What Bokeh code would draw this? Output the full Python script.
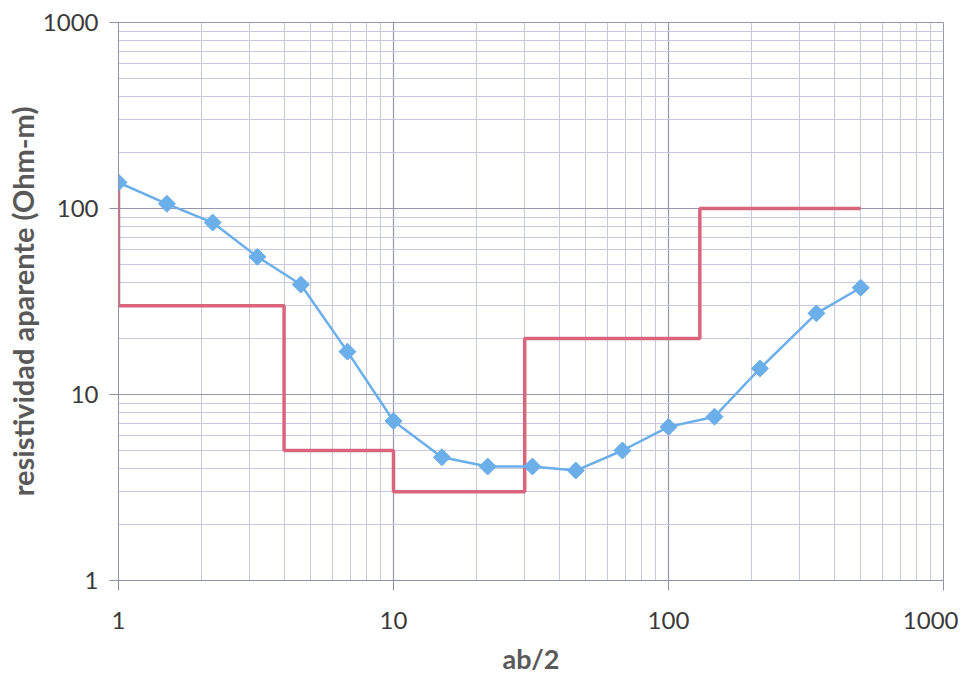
import math
from bokeh.plotting import figure
from bokeh.models import FixedTicker, BasicTickFormatter
from bokeh.embed import file_html
from bokeh.resources import INLINE

# apparent resistivity curve
ab2 = [1.0, 1.5, 2.2, 3.2, 4.6, 6.8, 10, 15, 22, 32, 46, 68, 100, 147, 215, 345, 500]
rho_a = [138, 106, 84, 55, 39, 17, 7.2, 4.6, 4.1, 4.1, 3.9, 5.0, 6.7, 7.6, 13.8, 27.3, 37.5]

# layered model (step line)
model_x = [1, 1, 4, 4, 10, 10, 30, 30, 130, 130, 500]
model_rho = [138, 30, 30, 5, 5, 3, 3, 20, 20, 100, 100]

major_ticks = [1, 10, 100, 1000]
minor_ticks = [m * d for d in (1, 10, 100) for m in range(2, 10)]

W, H = 958, 677
p = figure(width=W, height=H, x_axis_type="log", y_axis_type="log",
           x_range=(1, 1000), y_range=(1, 1000),
           output_backend="svg", toolbar_location=None,
           min_border_left=118, min_border_right=W - 943,
           min_border_top=22, min_border_bottom=H - 580)

font = "Lato"
for ax in (p.xaxis[0], p.yaxis[0]):
    ax.ticker = FixedTicker(ticks=major_ticks, minor_ticks=minor_ticks)
    ax.formatter = BasicTickFormatter()
    ax.major_label_text_font = font
    ax.major_label_text_font_size = "24px"
    ax.major_label_text_color = "#3a3a3a"
    ax.axis_line_color = "#9090a8"
    ax.major_tick_line_color = "#9090a8"
    ax.major_tick_in = 0
    ax.minor_tick_in = 0
    ax.minor_tick_out = 0
    ax.axis_label_text_font = font
    ax.axis_label_text_font_style = "bold"
    ax.axis_label_text_color = "#595959"

p.xaxis.major_tick_out = 10
p.yaxis.major_tick_out = 9
p.xaxis.axis_label = "ab/2"
p.yaxis.axis_label = "resistividad aparente (Ohm-m)"
p.xaxis.axis_label_text_font_size = "27px"
p.yaxis.axis_label_text_font_size = "29px"
p.xaxis.major_label_standoff = 21
p.yaxis.major_label_standoff = 11
p.xaxis.axis_label_standoff = 10
p.yaxis.axis_label_standoff = 0

for g in (p.xgrid[0], p.ygrid[0]):
    g.grid_line_color = "#9696ae"
    g.grid_line_width = 1.2
    g.minor_grid_line_color = "#c8c8e2"
    g.minor_grid_line_width = 1

p.outline_line_color = "#9696ae"
p.background_fill_color = "white"
p.border_fill_color = "white"

p.line(model_x, model_rho, line_color="#d9657c", line_width=3.5)
p.line(ab2, rho_a, line_color="#6aaeea", line_width=2.5)
p.scatter(ab2, rho_a, marker="square", angle=math.pi / 4, size=12,
          fill_color="#6aaeea", line_color="#6aaeea")

open("out.html", "w").write(file_html(p, INLINE))
